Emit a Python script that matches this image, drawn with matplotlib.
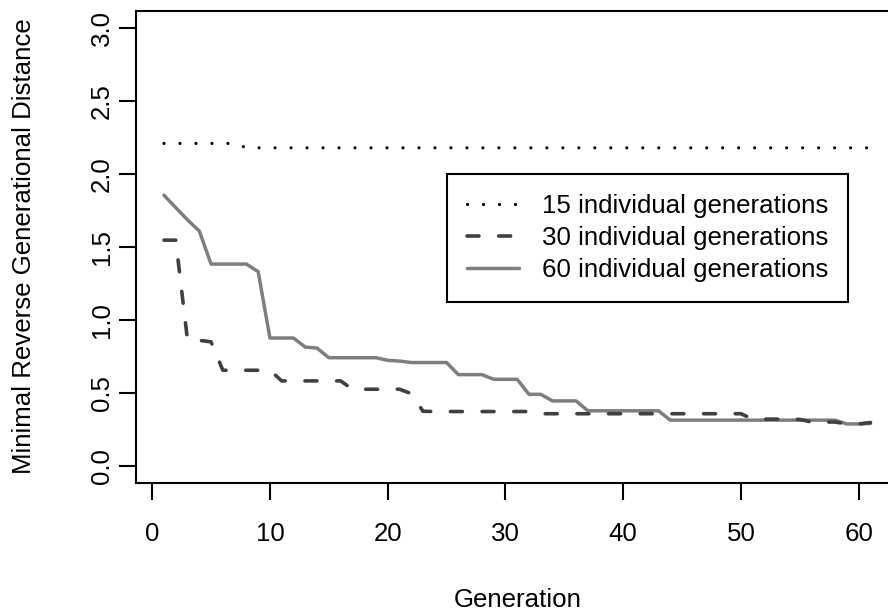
import matplotlib
matplotlib.use("Agg")
import matplotlib.pyplot as plt
import numpy as np

plt.rcParams['font.family'] = ['Liberation Sans', 'DejaVu Sans']
plt.rcParams['lines.scale_dashes'] = False

generations = list(range(1, 62))

ind15 = [2.21] * 7 + [2.18] * 54

ind30 = [1.547, 1.547, 0.86, 0.86, 0.85, 0.655, 0.655, 0.655, 0.655, 0.655,
         0.582, 0.582, 0.582, 0.582, 0.582, 0.582, 0.525, 0.525, 0.525, 0.525,
         0.525, 0.495, 0.374, 0.372, 0.372, 0.372, 0.372, 0.372, 0.372, 0.372,
         0.372, 0.372, 0.357, 0.357, 0.357, 0.357, 0.357, 0.357, 0.357, 0.357,
         0.357, 0.357, 0.357, 0.357, 0.357, 0.357, 0.357, 0.357, 0.357, 0.357,
         0.32, 0.32, 0.32, 0.32, 0.318, 0.30, 0.30, 0.30, 0.287, 0.287, 0.297]

ind60 = [1.855, 1.77, 1.686, 1.61, 1.383, 1.383, 1.383, 1.383, 1.331, 0.876,
         0.876, 0.876, 0.814, 0.807, 0.741, 0.741, 0.741, 0.741, 0.741, 0.723,
         0.718, 0.708, 0.708, 0.708, 0.708, 0.625, 0.625, 0.625, 0.593, 0.593,
         0.593, 0.49, 0.49, 0.445, 0.445, 0.445, 0.377, 0.377, 0.377, 0.377,
         0.377, 0.377, 0.377, 0.313, 0.313, 0.313, 0.313, 0.313, 0.313, 0.313,
         0.313, 0.313, 0.313, 0.313, 0.313, 0.313, 0.313, 0.313, 0.287, 0.287, 0.29]

labels = ["15 individual generations", "30 individual generations", "60 individual generations"]
xticks = [0, 10, 20, 30, 40, 50, 60]
yticks = [0.0, 0.5, 1.0, 1.5, 2.0, 2.5, 3.0]
ytick_labels = ["0.0", "0.5", "1.0", "1.5", "2.0", "2.5", "3.0"]

FS = 18.6
W, H = 888, 613
fig = plt.figure(figsize=(W / 100, H / 100), dpi=100)
ax = fig.add_axes([135.7 / W, (H - 483.3) / H, 763 / W, 472.6 / H])

l15, = ax.plot(generations, ind15, color='black', lw=2.3,
               linestyle=(0, (0.01, 11.5)), dash_capstyle='round', zorder=3)
l60, = ax.plot(generations, ind60, color='#7e7e7e', lw=2.5,
               solid_capstyle='round', solid_joinstyle='round', zorder=2)
l30, = ax.plot(generations, ind30, color='#404040', lw=2.6,
               linestyle=(0, (8.6, 14.2)), dash_capstyle='round', zorder=4)

ax.set_xlim(-1.4, 63.4)
ax.set_ylim(-0.12, 3.12)
ax.set_xticks(xticks)
ax.set_yticks(yticks)
ax.set_yticklabels(ytick_labels)

for s in ax.spines.values():
    s.set_linewidth(1.5)
    s.set_color('black')

ax.tick_params(axis='both', direction='out', length=12.2, width=1.5,
               labelsize=FS, colors='black')
ax.tick_params(axis='x', pad=16.0)
ax.tick_params(axis='y', pad=7.0)
for t in ax.yaxis.get_major_ticks():
    lab = t.label1
    lab.set_rotation(90)
    lab.set_rotation_mode('anchor')
    lab.set_ha('center')
    lab.set_va('baseline')

fig.text(517.2 / W, (H - 606.7) / H, "Generation", fontsize=FS,
         ha='center', va='baseline')
fig.text(31 / W, (H - 246) / H, "Minimal Reverse Generational Distance",
         fontsize=FS, rotation=90, rotation_mode='anchor',
         ha='center', va='baseline')

leg = ax.legend([l15, l30, l60], labels, loc='upper left',
                bbox_to_anchor=(446.7 / W, 1 - 174 / H),
                bbox_transform=fig.transFigure, borderaxespad=0,
                fontsize=FS, handlelength=2.02, handletextpad=0.9,
                borderpad=0.77, labelspacing=0.31, fancybox=False,
                framealpha=1, edgecolor='black')
leg.get_frame().set_linewidth(1.5)

fig.savefig("out.png", dpi=100)
